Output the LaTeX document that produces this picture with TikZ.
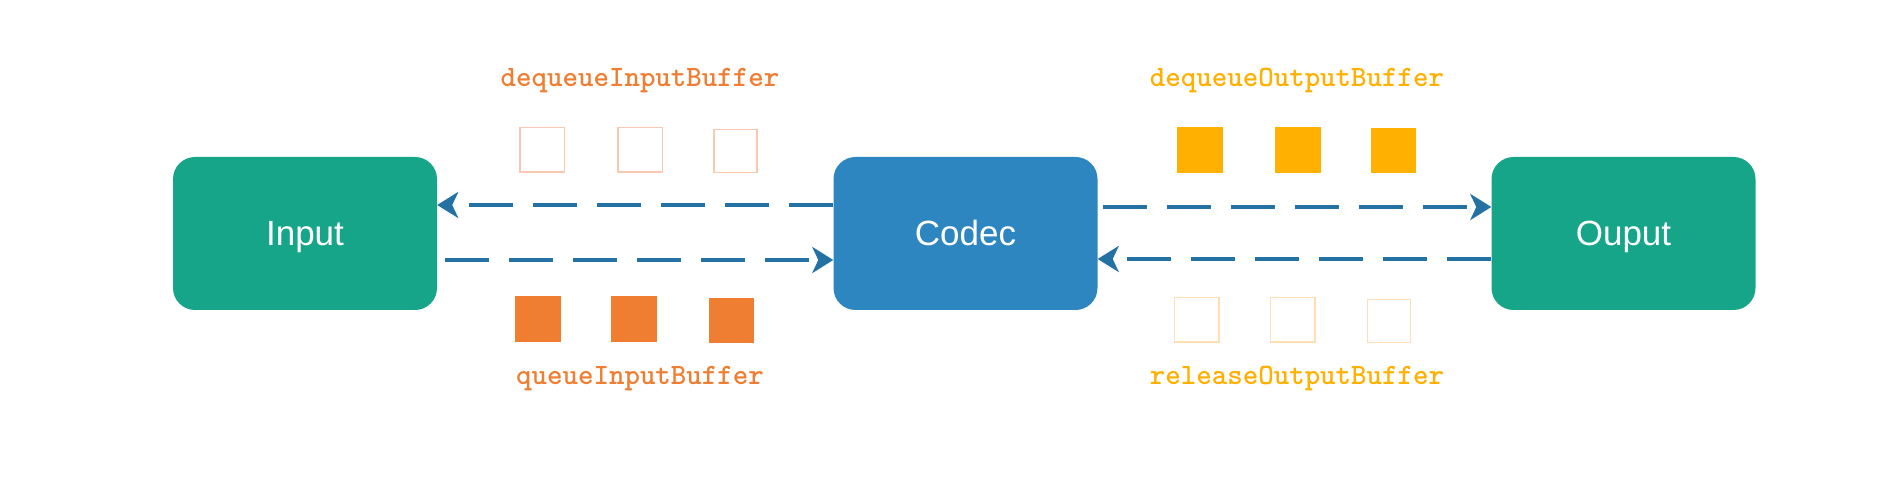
\documentclass[tikz,border=0pt]{standalone}
\usepackage{fontspec}
\setmainfont{Liberation Sans}
\usetikzlibrary{arrows.meta}

\definecolor{boxgreen}{HTML}{17A589}
\definecolor{boxblue}{HTML}{2E86C1}
\definecolor{arrowblue}{HTML}{2471A3}
\definecolor{bufferorange}{HTML}{EF7E32}
\definecolor{bufferamber}{HTML}{FFB000}
\definecolor{lightorange}{HTML}{F8C8B0}
\definecolor{lightamber}{HTML}{FFDFB3}

\tikzset{
    stage/.style={rounded corners=22pt, minimum width=264pt, minimum height=153pt,
        inner sep=0pt, text=white, text height=25pt, text depth=0pt,
        font=\fontsize{35}{40}\selectfont},
    flow/.style={draw=arrowblue, line width=4pt, dash pattern=on 44pt off 20pt,
        -{Stealth[length=21pt, width=26pt, inset=6pt]}},
    fullbuf/.style={inner sep=0pt},
    emptybuf/.style={draw, line width=1.5pt, inner sep=0pt},
    call/.style={anchor=base, font=\ttfamily\bfseries\fontsize{29.5}{32}\selectfont}
}

\begin{document}
\begin{tikzpicture}[x=1pt, y=-1pt]
    \useasboundingbox (0,0) rectangle (1904,502);

    \node[stage, fill=boxgreen] (input) at (305,233.5) {Input};
    \node[stage, fill=boxblue] (codec) at (965.5,233.5) {Codec};
    \node[stage, fill=boxgreen] (ouput) at (1623.5,233.5) {Ouput};

    \draw[flow] ([yshift=28.5pt]codec.west) -- ([yshift=28.5pt]input.east);
    \draw[flow, shorten <=8pt] ([yshift=-26.5pt]input.east) -- ([yshift=-26.5pt]codec.west);
    \draw[flow, shorten <=5pt] ([yshift=26.5pt]codec.east) -- ([yshift=26.5pt]ouput.west);
    \draw[flow] ([yshift=-25.5pt]ouput.west) -- ([yshift=-25.5pt]codec.east);

    \foreach \x/\y/\s [count=\i] in {542/150/44.5, 640/150/44.5, 735.5/151/43} {
        \node[emptybuf, draw=lightorange, minimum size=\s pt] (dqin\i) at (\x,\y) {};
    }
    \foreach \x/\y/\s [count=\i] in {538/319.5/46, 633.5/319.5/46, 731/320.5/45} {
        \node[fullbuf, fill=bufferorange, minimum size=\s pt] (qin\i) at (\x,\y) {};
    }
    \foreach \x/\y/\s [count=\i] in {1200/150/46, 1298/150/46, 1393.5/151/45} {
        \node[fullbuf, fill=bufferamber, minimum size=\s pt] (dqout\i) at (\x,\y) {};
    }
    \foreach \x/\y/\s [count=\i] in {1196.5/320/44.5, 1292.5/320/44.5, 1389/321/43} {
        \node[emptybuf, draw=lightamber, minimum size=\s pt] (relout\i) at (\x,\y) {};
    }

    \node[call, text=bufferorange] (dqinlabel) at (640,87) {dequeueInputBuffer};
    \node[call, text=bufferorange] (qinlabel) at (640,385) {queueInputBuffer};
    \node[call, text=bufferamber] (dqoutlabel) at (1297,87) {dequeueOutputBuffer};
    \node[call, text=bufferamber] (reloutlabel) at (1297,385) {releaseOutputBuffer};
\end{tikzpicture}
\end{document}
